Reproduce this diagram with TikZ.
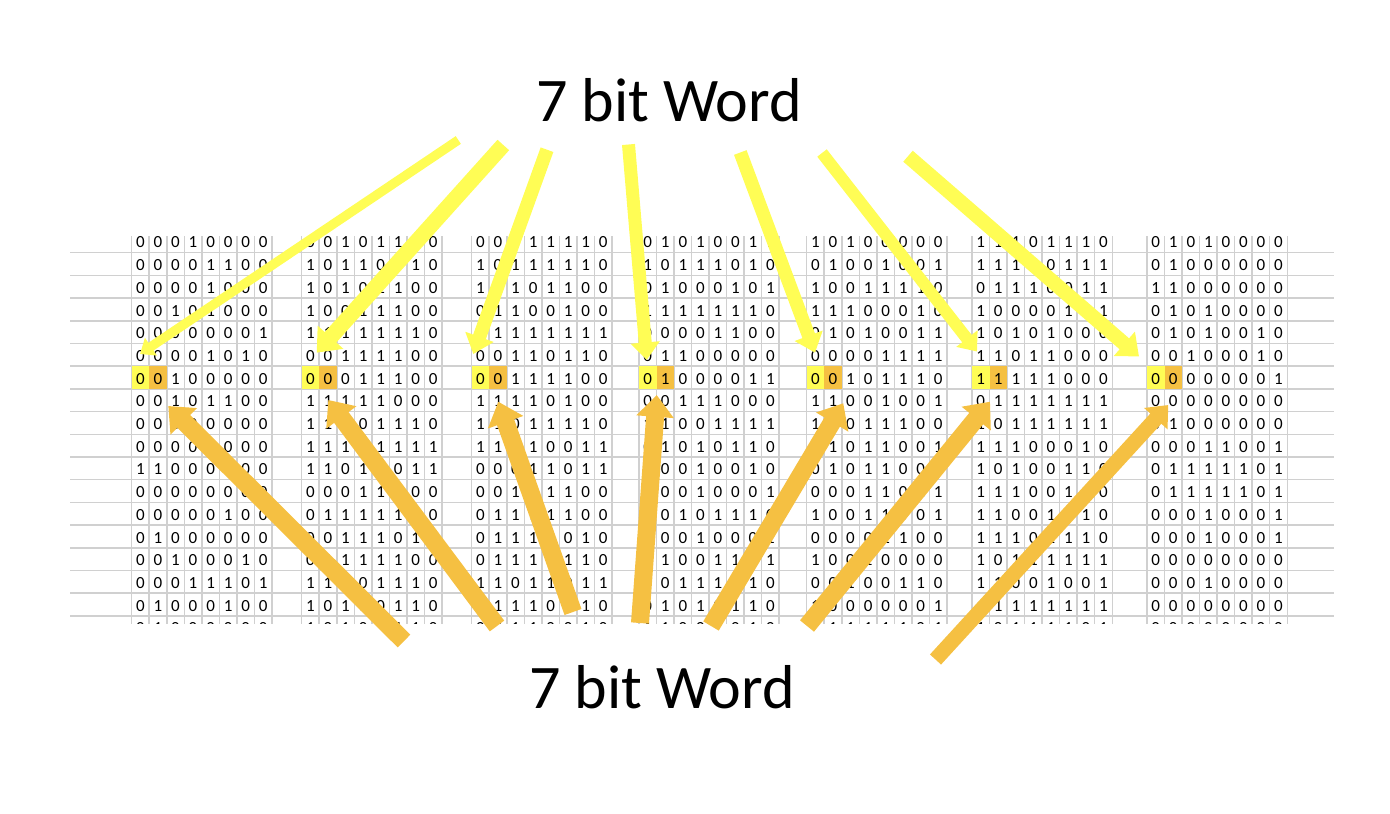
\documentclass[tikz,border=0pt]{standalone}
\usepackage{fontspec}
\setmainfont{Carlito}
\usetikzlibrary{arrows.meta}
\definecolor{wordyellow}{RGB}{255,253,85}
\definecolor{wordorange}{RGB}{245,192,66}
\definecolor{cellline}{RGB}{208,208,208}
\tikzset{
  bit/.style={inner sep=0pt,font=\fontsize{17}{19}\selectfont},
  gridline/.style={draw=cellline,line width=1.5pt},
  wordlabel/.style={inner sep=0pt,anchor=base,font=\fontsize{62}{70}\selectfont},
  yarrow/.style={draw=wordyellow,-{Triangle[length=2pt 1.2,width=2pt 2]}},
  oarrow/.style={draw=wordorange,-{Triangle[length=2pt 1.1,width=2pt 1.9]}}
}
\newcommand*{\ColW}{17.53}
\newcommand*{\RowH}{22.7}
\newcommand*{\RowTop}{242.5}% centre of the first row of bits
\newcommand{\bitblock}[3]{% block number, left edge, rows
  \foreach \row [count=\rr] in {#3} {
    \foreach \bitval [count=\cc] in \row {
      \node[bit] (b#1-\rr-\cc) at ({#2+(\cc-0.5)*\ColW},{\RowTop+(\rr-1)*\RowH}) {\bitval};
    }
  }
}

\begin{document}
\begin{tikzpicture}[x=1pt,y=-1pt]
\useasboundingbox (0,0) rectangle (1390,814);

\begin{scope}
\clip (60,230) rectangle (1340,623);
\foreach \k in {0,...,16} {%
  \draw[gridline] (70,{252.7+\k*\RowH}) -- (1334,{252.7+\k*\RowH});
}
\foreach \bx in {131.7,301.7,471.7,639,806.7,972,1147} {%
  \foreach \k in {0,...,8}
    \draw[gridline] ({\bx+\k*\ColW},236) -- ({\bx+\k*\ColW},630);
  \fill[wordyellow] (\bx,366.2) rectangle ++(\ColW,\RowH);% first bit
  \fill[wordorange] ({\bx+\ColW},366.2) rectangle ++(\ColW,\RowH);% second bit
}

\bitblock{1}{131.7}{
{0,0,0,1,0,0,0,0},{0,0,0,0,1,1,0,0},{0,0,0,0,1,0,0,0},{0,0,1,0,1,0,0,0},
{0,0,0,0,0,0,0,1},{0,0,0,0,1,0,1,0},{0,0,1,0,0,0,0,0},{0,0,1,0,1,1,0,0},
{0,0,0,0,0,0,0,0},{0,0,0,0,0,0,0,0},{1,1,0,0,0,0,0,0},{0,0,0,0,0,0,0,0},
{0,0,0,0,0,1,0,0},{0,1,0,0,0,0,0,0},{0,0,1,0,0,0,1,0},{0,0,0,1,1,1,0,1},
{0,1,0,0,0,1,0,0},{0,1,0,0,0,0,0,0}}
\bitblock{2}{301.7}{
{0,0,1,0,1,1,1,0},{1,0,1,1,0,0,1,0},{1,0,1,0,1,1,0,0},{1,0,0,1,1,1,0,0},
{1,1,1,1,1,1,1,0},{0,0,1,1,1,1,0,0},{0,0,0,1,1,1,0,0},{1,1,1,1,1,0,0,0},
{1,1,1,0,1,1,1,0},{1,1,1,1,1,1,1,1},{1,1,0,1,1,0,1,1},{0,0,0,1,1,1,0,0},
{0,1,1,1,1,1,1,0},{0,0,1,1,1,0,1,1},{0,1,1,1,1,1,0,0},{1,1,0,0,1,1,1,0},
{1,0,1,1,0,1,1,0},{1,0,1,0,0,1,1,0}}
\bitblock{3}{471.7}{
{0,0,1,1,1,1,1,0},{1,0,1,1,1,1,1,0},{1,0,1,0,1,1,0,0},{0,1,1,0,0,1,0,0},
{1,1,1,1,1,1,1,1},{0,0,1,1,0,1,1,0},{0,0,1,1,1,1,0,0},{1,1,1,1,0,1,0,0},
{1,1,0,1,1,1,1,0},{1,1,1,1,0,0,1,1},{0,0,0,1,1,0,1,1},{0,0,1,1,1,1,0,0},
{0,1,1,1,1,1,0,0},{0,1,1,1,0,0,1,0},{0,1,1,1,1,1,1,0},{1,1,0,1,1,0,1,1},
{1,1,1,1,0,1,1,0},{0,0,1,1,0,0,1,0}}
\bitblock{4}{639}{
{0,1,0,1,0,0,1,1},{1,0,1,1,1,0,1,0},{0,1,0,0,0,1,0,1},{1,1,1,1,1,1,1,0},
{0,0,0,0,1,1,0,0},{0,1,1,0,0,0,0,0},{0,1,0,0,0,0,1,1},{0,0,1,1,1,0,0,0},
{1,1,0,0,1,1,1,1},{0,1,0,1,0,1,1,0},{1,0,0,1,0,0,1,0},{0,0,0,1,0,0,0,1},
{0,0,1,0,1,1,1,0},{0,0,0,1,0,0,0,1},{0,1,0,0,1,1,1,1},{0,0,1,1,1,1,1,0},
{0,1,0,1,0,1,1,0},{1,1,0,0,0,0,1,0}}
\bitblock{5}{806.7}{
{1,0,1,0,0,0,0,0},{0,1,0,0,1,0,0,1},{1,0,0,1,1,1,1,0},{1,1,1,0,0,0,1,0},
{0,1,0,1,0,0,1,1},{0,0,0,0,1,1,1,1},{0,0,1,0,1,1,1,0},{1,1,0,0,1,0,0,1},
{1,1,0,1,1,1,0,0},{0,1,0,1,1,0,0,1},{0,1,0,1,1,0,0,1},{0,0,0,1,1,0,1,1},
{1,0,0,1,1,0,0,1},{0,0,0,0,1,1,0,0},{1,0,0,1,0,0,0,0},{0,0,1,0,0,1,1,0},
{1,0,0,0,0,0,0,1},{0,1,1,1,1,1,0,1}}
\bitblock{6}{972}{
{1,1,1,0,1,1,1,0},{1,1,1,1,0,1,1,1},{0,1,1,1,0,0,1,1},{1,0,0,0,0,1,1,1},
{1,0,1,0,1,0,0,0},{1,1,0,1,1,0,0,0},{1,1,1,1,1,0,0,0},{0,1,1,1,1,1,1,1},
{1,0,1,1,1,1,1,1},{1,1,1,0,0,0,1,0},{1,0,1,0,0,1,1,0},{1,1,1,0,0,1,1,0},
{1,1,0,0,1,1,1,0},{1,1,1,0,1,1,1,0},{1,0,1,1,1,1,1,1},{1,1,0,0,1,0,0,1},
{1,1,1,1,1,1,1,1},{1,0,1,1,1,1,0,1}}
\bitblock{7}{1147}{
{0,1,0,1,0,0,0,0},{0,1,0,0,0,0,0,0},{1,1,0,0,0,0,0,0},{0,1,0,1,0,0,0,0},
{0,1,0,1,0,0,1,0},{0,0,1,0,0,0,1,0},{0,0,0,0,0,0,0,1},{0,0,0,0,0,0,0,0},
{0,1,0,0,0,0,0,0},{0,0,0,1,1,0,0,1},{0,1,1,1,1,1,0,1},{0,1,1,1,1,1,0,1},
{0,0,0,1,0,0,0,1},{0,0,0,1,0,0,0,1},{0,0,0,0,0,0,0,0},{0,0,0,1,0,0,0,0},
{0,0,0,0,0,0,0,0},{0,0,0,0,0,0,0,0}}
\end{scope}

\node[wordlabel] (topword) at (669,121.7) {7 bit Word};
\node[wordlabel] (botword) at (662,708.5) {7 bit Word};

% yellow: label above -> first bit
\foreach \i/\tx/\ty/\hx/\hy/\w in {1/458.3/140/140/354/9.3,2/503.3/145/316.7/352.7/15.6,
    3/547/149.7/473.3/354/13.5,4/628.5/144.5/646.7/360/13,5/740.3/152.5/815/352.7/13.4,
    6/822/153/977/351.5/12,7/908/156.2/1139/356.5/14.5} {%
  \coordinate (yt\i) at (\tx,\ty);
  \coordinate (yh\i) at (\hx,\hy);
  \draw[yarrow,line width=\w pt] (yt\i) -- (yh\i);
}
% orange: label below -> second bit
\foreach \i/\tx/\ty/\hx/\hy/\w in {1/404/641/168.3/406/18,2/497/626/328.3/400/18,
    3/573/612/498.3/401.7/18,4/640/623/656.7/395/18,5/711/626/843.3/403.3/18,
    6/807/626/990/401.7/18,7/935.5/659.5/1168.3/405/15} {%
  \coordinate (ot\i) at (\tx,\ty);
  \coordinate (oh\i) at (\hx,\hy);
  \draw[oarrow,line width=\w pt] (ot\i) -- (oh\i);
}
\end{tikzpicture}
\end{document}
